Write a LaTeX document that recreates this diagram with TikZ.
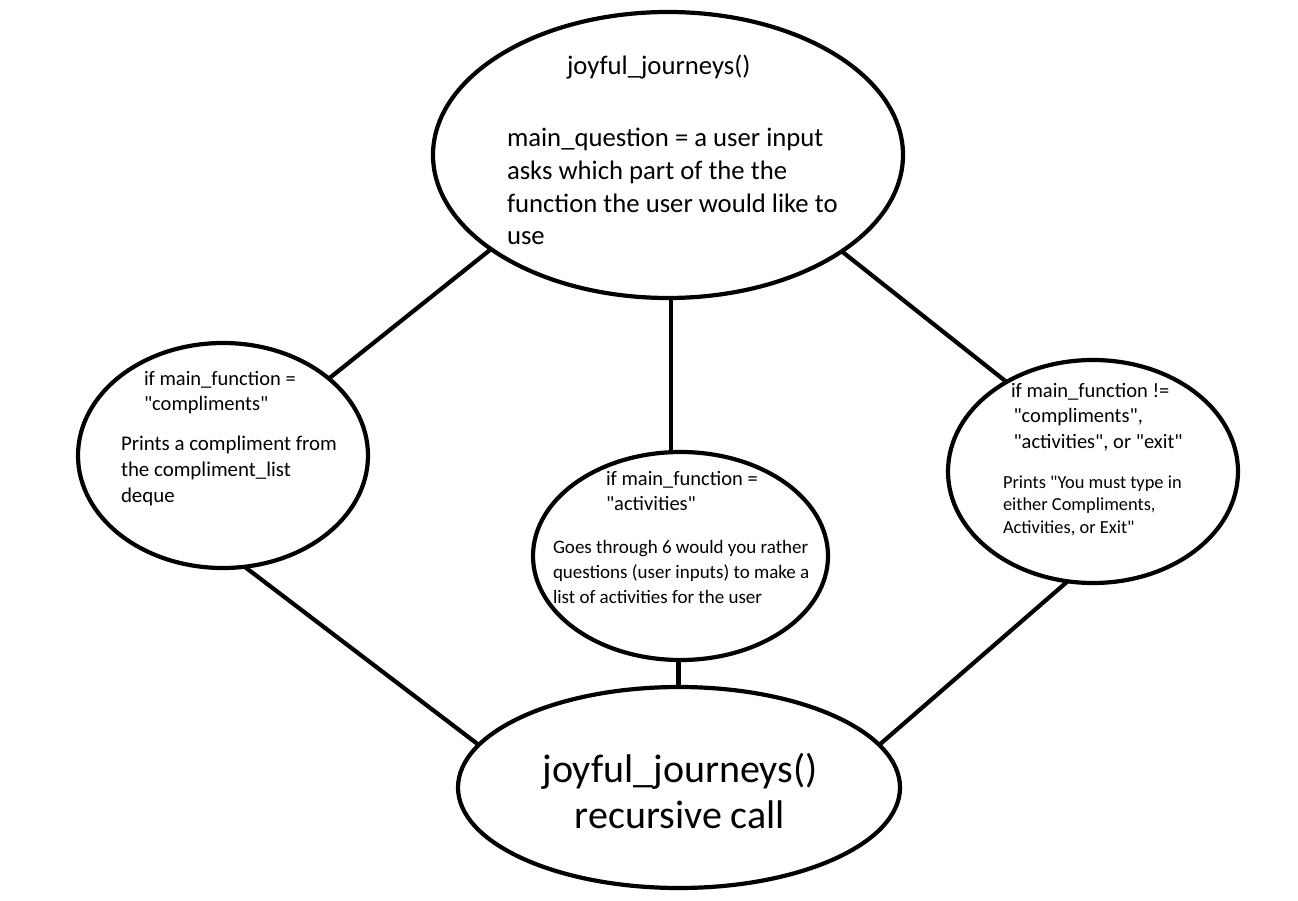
\documentclass[tikz,border=0pt]{standalone}
\usepackage{fontspec}
\setmainfont{Carlito}[Ligatures=TeXOff]
\usetikzlibrary{shapes.geometric}
\newcommand{\fsz}[2]{\fontsize{#1}{#2}\selectfont}
\newcommand{\dq}{\char34\relax}
\begin{document}
\begin{tikzpicture}[x=1pt,y=-1pt,
  bubble/.style={ellipse,draw=black,line width=4.2pt,inner sep=0pt,outer sep=0pt},
  link/.style={line width=4.2pt,line cap=butt},
  txt/.style={anchor=base west,inner sep=0pt,outer sep=0pt,align=left,text=black}]
\fill[white] (0,0) rectangle (1298,901);
\useasboundingbox (0,0) rectangle (1298,901);

% ellipses
\node[bubble,minimum width=470pt,minimum height=286pt] (T) at (668,155) {};
\node[bubble,minimum width=290pt,minimum height=225pt] (L) at (223,455.5) {};
\node[bubble,minimum width=295pt,minimum height=208pt] (M) at (680.5,556) {};
\node[bubble,minimum width=290pt,minimum height=223pt] (R) at (1093,471.5) {};
\node[bubble,minimum width=442pt,minimum height=201pt] (B) at (679,787.5) {};

% connectors
\draw[link] (T.208) -- (L.36.6);
\draw[link] (T.331) -- (R.134.2);
\draw[link] ([xshift=3pt]T.south) -- ([xshift=3pt]T.south |- M.north);
\draw[link] (L.281.6) -- (B.168.1);
\draw[link] (R.257.4) -- (B.12.6);
\draw[link] ([xshift=-2pt]M.south) -- ([xshift=-2pt]M.south |- B.north);

% texts (anchor = baseline of the last line)
\node[txt,font=\fsz{26.7}{32.7}] (Ttitle) at (567,75) {joyful\_journeys()};
\node[txt,font=\fsz{26.7}{32.7}] (Tbody) at (507,245) {main\_question = a user input\\asks which part of the the\\function the user would like to\\use};

\node[txt,font=\fsz{20.5}{25}] (Lcond) at (144,410) {if main\_function =\\\dq compliments\dq};
\node[txt,font=\fsz{20.9}{26}] (Lbody) at (121,502) {Prints a compliment from\\the compliment\_list\\deque};

\node[txt,font=\fsz{20.5}{25}] (Mcond) at (606,510) {if main\_function =\\\dq activities\dq};
\node[txt,font=\fsz{19}{25}] (Mbody) at (553,603) {Goes through 6 would you rather\\questions (user inputs) to make a\\list of activities for the user};

\node[txt,font=\fsz{20.5}{25.5}] (Rcond) at (1011,448) {if main\_function !=\\\hspace{2.5pt}\dq compliments\dq,\\\hspace{2.5pt}\dq activities\dq, or \dq exit\dq};
\node[txt,font=\fsz{18.4}{22.5}] (Rbody) at (1003,533) {Prints \dq You must type in\\either Compliments,\\Activities, or Exit\dq};

\node[anchor=base,inner sep=0pt,align=center,font=\fsz{40}{46}] (Btext) at (680,828) {joyful\_journeys()\\recursive call};
\end{tikzpicture}
\end{document}
